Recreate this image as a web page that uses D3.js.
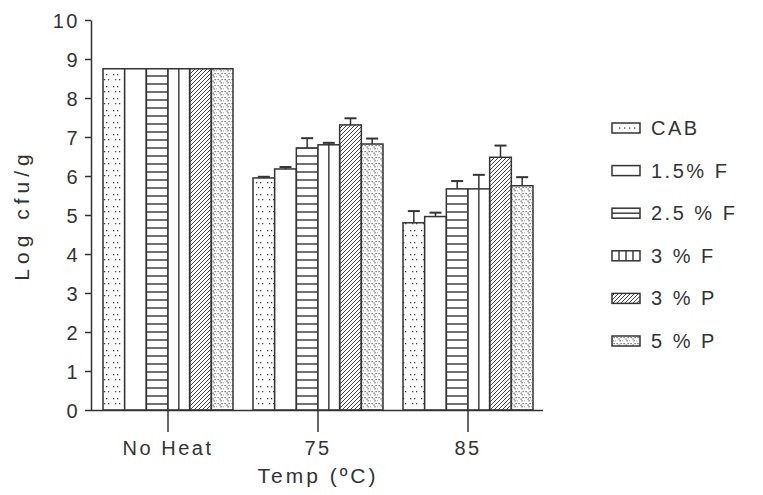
<!DOCTYPE html>
<html><head><meta charset="utf-8">
<script src="https://cdn.jsdelivr.net/npm/d3@7"></script>
<style>body{margin:0;background:#fff}svg{display:block}text{font-family:"Liberation Sans",Arial,sans-serif;fill:#333;font-size:20px;letter-spacing:2.5px}</style>
</head><body>
<svg id="c" width="763" height="495"></svg>
<script>
const categories = ["No Heat", "75", "85"];
const seriesNames = ["CAB", "1.5% F", "2.5 % F", "3 % F", "3 % P", "5 % P"];
const valCAB  = [8.75, 5.95, 4.80];
const val15F  = [8.75, 6.18, 4.96];
const val25F  = [8.75, 6.72, 5.67];
const val3F   = [8.75, 6.80, 5.67];
const val3P   = [8.75, 7.31, 6.48];
const val5P   = [8.75, 6.82, 5.75];
const errCAB  = [0, 0.03, 0.30];
const err15F  = [0, 0.05, 0.10];
const err25F  = [0, 0.25, 0.20];
const err3F   = [0, 0.05, 0.36];
const err3P   = [0, 0.17, 0.30];
const err5P   = [0, 0.14, 0.22];
const yTicks = [0,1,2,3,4,5,6,7,8,9,10];
const xTitle = "Temp (ºC)";
const yTitle = "Log cfu/g";

const values = [valCAB, val15F, val25F, val3F, val3P, val5P];
const errors = [errCAB, err15F, err25F, err3F, err3P, err5P];
const patterns = ["pCAB", null, "pH", null, "pD", "pV"];

const ink = "#333";
const svg = d3.select("#c");
const defs = svg.append("defs");

let p = defs.append("pattern").attr("id","pCAB").attr("patternUnits","userSpaceOnUse").attr("width",11).attr("height",12);
[[3,2],[7,2],[5,7],[9,7]].forEach(([x,y])=>p.append("rect").attr("x",x).attr("y",y).attr("width",1.3).attr("height",1.3).attr("fill","#444"));
p = defs.append("pattern").attr("id","pH").attr("patternUnits","userSpaceOnUse").attr("width",10).attr("height",8);
p.append("line").attr("x1",0).attr("x2",10).attr("y1",4).attr("y2",4).attr("stroke",ink).attr("stroke-width",1.4);
p = defs.append("pattern").attr("id","pD").attr("patternUnits","userSpaceOnUse").attr("width",4).attr("height",4);
p.append("path").attr("d","M-1,5 L5,-1 M-1,1 L1,-1 M3,5 L5,3").attr("stroke","#444").attr("stroke-width",1);
p = defs.append("pattern").attr("id","pV").attr("patternUnits","userSpaceOnUse").attr("width",7).attr("height",6);
[[0.5,1],[2.5,2.5],[4.5,1],[3.5,4.2],[6.5,4.2]].forEach(([x,y])=>p.append("rect").attr("x",x).attr("y",y).attr("width",1.2).attr("height",1.2).attr("fill","#555"));

const x = d3.scaleBand().domain(categories).range([93, 543]).paddingInner(20/150).paddingOuter(10/150);
const xs = d3.scaleBand().domain(seriesNames).range([0, x.bandwidth()]);
const y = d3.scaleLinear().domain([0, 10]).range([410, 20]);

const g = svg.append("g");
categories.forEach((cat, ci) => {
  seriesNames.forEach((s, si) => {
    const v = values[si][ci], e = errors[si][ci];
    const bx = x(cat) + xs(s), bw = xs.bandwidth();
    const cx = bx + bw/2;
    if (e > 0) {
      g.append("line").attr("x1",cx).attr("x2",cx).attr("y1",y(v)).attr("y2",y(v+e)).attr("stroke",ink).attr("stroke-width",1.5);
      g.append("line").attr("x1",cx-6).attr("x2",cx+6).attr("y1",y(v+e)).attr("y2",y(v+e)).attr("stroke",ink).attr("stroke-width",2);
    }
    g.append("rect").attr("x",bx).attr("y",y(v)).attr("width",bw).attr("height",y(0)-y(v))
      .attr("fill", patterns[si] ? `url(#${patterns[si]})` : "#fff")
      .attr("stroke",ink).attr("stroke-width",1.5);
    if (si === 3) {
      g.append("line").attr("x1",cx).attr("x2",cx).attr("y1",y(v)).attr("y2",y(0)).attr("stroke",ink).attr("stroke-width",1.4);
    }
  });
});

const ya = svg.append("g").attr("transform","translate(91,0)")
  .call(d3.axisLeft(y).tickValues(yTicks).tickSize(6).tickSizeOuter(0).tickFormat(d3.format("d")));
ya.select(".domain").attr("stroke",ink).attr("stroke-width",1.5);
ya.selectAll(".tick line").attr("stroke",ink).attr("stroke-width",1.5);
ya.selectAll(".tick text").attr("x",-11).attr("dy","0.36em").attr("fill",ink);

const xa = svg.append("g").attr("transform","translate(0,410)")
  .call(d3.axisBottom(x).tickSize(22).tickSizeOuter(0));
xa.select(".domain").attr("d","M91,0.5H543").attr("stroke",ink).attr("stroke-width",1.5);
xa.selectAll(".tick line").attr("stroke",ink).attr("stroke-width",1.5);
xa.selectAll(".tick text").attr("y",31).attr("fill",ink);
svg.selectAll("g").attr("font-family",null).attr("font-size",null);

svg.append("text").attr("x",318).attr("y",483).attr("text-anchor","middle")
  .style("font-size","21px").style("letter-spacing","3px").text(xTitle);
svg.append("text").attr("transform","translate(29,215) rotate(-90)").attr("text-anchor","middle")
  .style("font-size","21px").style("letter-spacing","5px").text(yTitle);

const leg = svg.append("g");
seriesNames.forEach((s, i) => {
  const ly = 128 + i*42.6;
  const lx = 612, lw = 28, lh = 10;
  const gg = leg.append("g");
  gg.append("rect").attr("x",lx).attr("y",ly-lh/2).attr("width",lw).attr("height",lh).attr("fill", i===4 ? "url(#pD)" : i===5 ? "url(#pV)" : "#fff").attr("stroke",ink).attr("stroke-width",1.5);
  if (i===0) [0,1,2,3].forEach(k=>gg.append("rect").attr("x",lx+7+k*5).attr("y",ly-0.6).attr("width",1.3).attr("height",1.3).attr("fill","#444"));
  if (i===2) gg.append("line").attr("x1",lx).attr("x2",lx+lw).attr("y1",ly).attr("y2",ly).attr("stroke",ink).attr("stroke-width",1.4);
  if (i===3) [1,2,3].forEach(k=>gg.append("line").attr("x1",lx+k*7).attr("x2",lx+k*7).attr("y1",ly-lh/2).attr("y2",ly+lh/2).attr("stroke",ink).attr("stroke-width",1.4));
  gg.append("text").attr("x",651).attr("y",ly+7).text(s);
});
</script>
</body></html>
